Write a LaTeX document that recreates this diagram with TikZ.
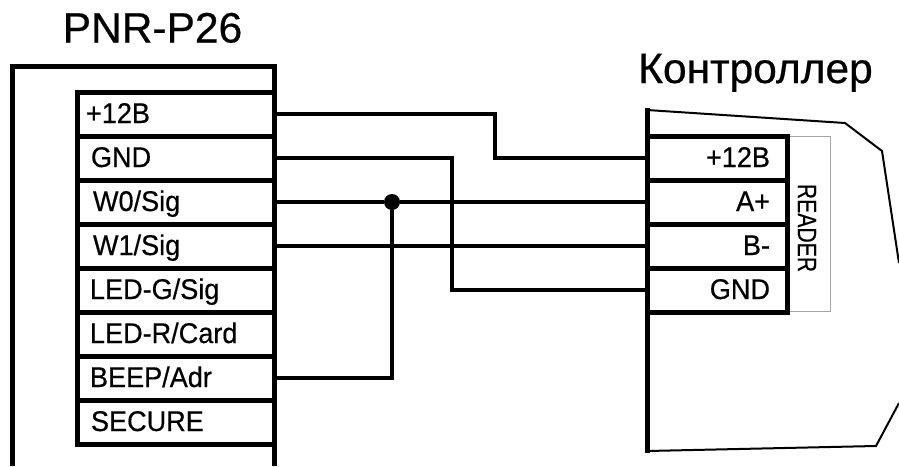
\documentclass[tikz,border=0pt]{standalone}
\usepackage{fontspec}
\setmainfont{Liberation Sans}
\newfontfamily\heavyf[FakeBold=0.5]{Liberation Sans}
\newfontfamily\rowf[FakeBold=0.5,FakeStretch=0.95]{Liberation Sans}
\newfontfamily\readerf[FakeBold=0.3,FakeStretch=0.8]{Liberation Sans}
\tikzset{
  thick line/.style={line width=5pt,draw=black,line cap=butt},
  wire/.style={line width=4.8pt,draw=black,line join=miter},
  rowl/.style={draw=black,line width=5pt,minimum height=44pt,inner sep=0pt,outer sep=0pt,text width=197pt,minimum width=197pt,align=left,text height=24pt,text depth=6pt,font=\rowf\fontsize{28.5}{28.5}\selectfont,anchor=center},
  rowr/.style={draw=black,line width=5pt,minimum height=44pt,inner sep=0pt,outer sep=0pt,text width=140pt,minimum width=140pt,align=right,text height=24pt,text depth=6pt,font=\rowf\fontsize{28.5}{28.5}\selectfont,anchor=center},
  title/.style={font=\heavyf\fontsize{42.5}{43}\selectfont,inner sep=0pt,anchor=base},
}
\newcommand{\rpad}{\rule{17pt}{0pt}}
\begin{document}
\begin{tikzpicture}[x=1pt,y=-1pt]
\useasboundingbox (0,0) rectangle (899,466);
\fill[white] (0,0) rectangle (899,466);
% PNR housing
\draw[thick line,line join=miter] (12.5,466) -- (12.5,66) -- (274.5,66) -- (274.5,466);
% controller housing
\draw[line width=2pt,line join=miter] (647,110) -- (845,123) -- (882,151) -- (899,263);
\draw[line width=2pt,line join=miter] (899,403) -- (876,446) -- (647,451);
\draw[draw=gray!70,line width=1pt] (787,136) -- (830,136) -- (830,311) -- (787,311);
\draw[thick line] (647,108) -- (647,453);
% left terminals
\node[rowl] (l1) at (175.5,114) {\hspace*{9pt}+12B};
\node[rowl] (l2) at (175.5,158) {\hspace*{14pt}GND};
\node[rowl] (l3) at (175.5,202) {\hspace*{16pt}W0/Sig};
\node[rowl] (l4) at (175.5,246) {\hspace*{16pt}W1/Sig};
\node[rowl] (l5) at (175.5,290) {\hspace*{13pt}LED-G/Sig};
\node[rowl] (l6) at (175.5,334) {\hspace*{13pt}LED-R/Card};
\node[rowl] (l7) at (175.5,378) {\hspace*{13pt}BEEP/Adr};
\node[rowl] (l8) at (175.5,422) {\hspace*{14pt}SECURE};
% right terminals
\node[rowr] (r1) at (717,158) {+12B\rpad};
\node[rowr] (r2) at (717,202) {A+\rpad};
\node[rowr] (r3) at (717,246) {B-\rpad};
\node[rowr] (r4) at (717,290) {GND\rpad};
% labels
\node[title] (tp) at (152.5,42.5) {PNR-P26};
\node[title] (tc) at (755.5,83) {Контроллер};
\node[font=\readerf\fontsize{26.5}{27}\selectfont,rotate=-90,inner sep=0pt] (rd) at (807,228) {READER};
% wires
\coordinate (k1) at (495,136);
\coordinate (k2) at (452,224);
\node[circle,fill=black,draw=none,minimum size=16pt,inner sep=0pt] (j) at (392,202) {};
\draw[wire] (l1.east) -| (k1) |- (r1.west);
\draw[wire] (l2.east) -| (k2) |- (r4.west);
\draw[wire] (l3.east) -- (j) -- (r2.west);
\draw[wire] (l4.east) -- (r3.west);
\draw[wire] (l7.east) -| (j);
\end{tikzpicture}
\end{document}
